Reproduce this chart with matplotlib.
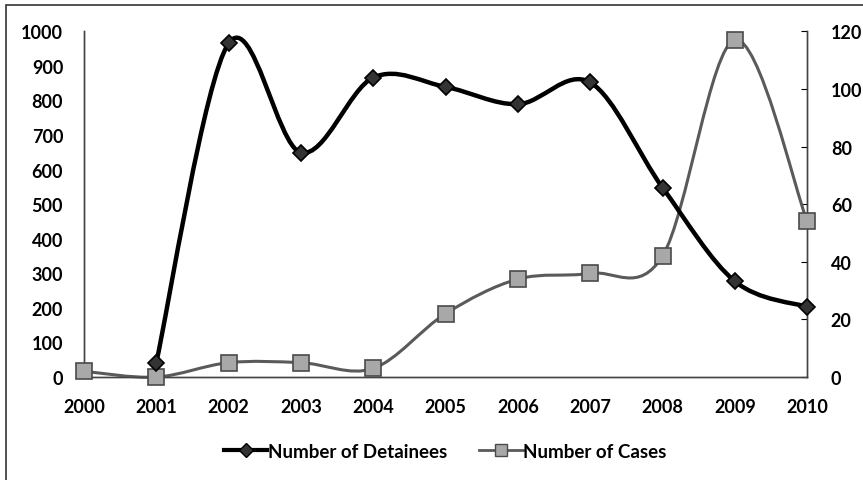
import matplotlib.pyplot as plt
import numpy as np
from matplotlib.path import Path
from matplotlib.patches import PathPatch, Rectangle
from matplotlib.lines import Line2D

years = ["2000", "2001", "2002", "2003", "2004", "2005",
         "2006", "2007", "2008", "2009", "2010"]
detainees = [np.nan, 42, 965, 649, 866, 839, 789, 852, 548, 277, 203]
cases = [2, 0, 5, 5, 3, 22, 34, 36, 42, 117, 54]

plt.rcParams['font.family'] = ['Lato', 'DejaVu Sans']
plt.rcParams['font.weight'] = 'bold'


def smooth_path(xs, ys):
    # excel-style smoothed line: cubic bezier through the points
    pts = [(x, y) for x, y in zip(xs, ys) if not np.isnan(y)]
    verts = [pts[0]]
    codes = [Path.MOVETO]
    n = len(pts)
    for i in range(n - 1):
        p0 = pts[i - 1] if i > 0 else pts[i]
        p1 = pts[i]
        p2 = pts[i + 1]
        p3 = pts[i + 2] if i + 2 < n else pts[i + 1]
        c1 = (p1[0] + (p2[0] - p0[0]) / 6, p1[1] + (p2[1] - p0[1]) / 6)
        c2 = (p2[0] - (p3[0] - p1[0]) / 6, p2[1] - (p3[1] - p1[1]) / 6)
        verts += [c1, c2, p2]
        codes += [Path.CURVE4] * 3
    return Path(verts, codes)


fig = plt.figure(figsize=(8.63, 4.81), dpi=100)
ax = fig.add_axes([0.0973, 0.214, 0.838, 0.719])
ax2 = ax.twinx()

x = np.arange(len(years))

# cases on secondary axis
ax2.add_patch(PathPatch(smooth_path(x, cases), fill=False, edgecolor='#5a5a5a',
                        lw=2.2, zorder=2, clip_on=False))
ax2.plot(x, cases, ls='none', marker='s', markersize=11, markerfacecolor='#a8a8a8',
         markeredgecolor='#4a4a4a', markeredgewidth=1.2, zorder=3, clip_on=False)

ax2.add_patch(PathPatch(smooth_path(x, detainees), fill=False, edgecolor='black',
                        lw=3.2, zorder=4, transform=ax.transData, clip_on=False))
ax2.plot(x, np.array(detainees) * 0.12, ls='none', marker='D', markersize=8,
         markerfacecolor='#333333', markeredgecolor='black', markeredgewidth=1.2,
         zorder=5, clip_on=False)

ax.set_xlim(0, 10)
ax.set_ylim(0, 1000)
ax2.set_ylim(0, 120)
ax.set_xticks(x)
ax.set_xticklabels(years)
ax.set_yticks(np.arange(0, 1001, 100))
ax2.set_yticks(np.arange(0, 121, 20))

for a in (ax, ax2):
    a.spines['top'].set_visible(False)
    for s in ('left', 'right', 'bottom'):
        a.spines[s].set_color('#444444')
        a.spines[s].set_linewidth(1.0)
ax.tick_params(axis='x', length=0, pad=15, labelsize=13)
ax.tick_params(axis='y', length=0, pad=15, labelsize=13)
ax2.tick_params(axis='y', direction='in', length=4, pad=17, labelsize=13)

handles = [
    Line2D([], [], color='black', lw=3, marker='D', markersize=7,
           markerfacecolor='#333333', markeredgecolor='black'),
    Line2D([], [], color='#5a5a5a', lw=2, marker='s', markersize=9,
           markerfacecolor='#a8a8a8', markeredgecolor='#4a4a4a'),
]
fig.legend(handles, ['Number of Detainees', 'Number of Cases'], loc='center',
           bbox_to_anchor=(445.5 / 863, 1 - 452 / 481), ncol=2, frameon=False,
           prop={'size': 13.5, 'weight': 'bold'},
           handlelength=2.3, handletextpad=0.05, columnspacing=1.7)

# outer chart border
fig.add_artist(Rectangle((6 / 863, -0.1), 1.2, 0.1 + 1 - 6 / 481, transform=fig.transFigure,
                         fill=False, edgecolor='#333333', lw=1.2))

fig.savefig('out.png', dpi=100)
